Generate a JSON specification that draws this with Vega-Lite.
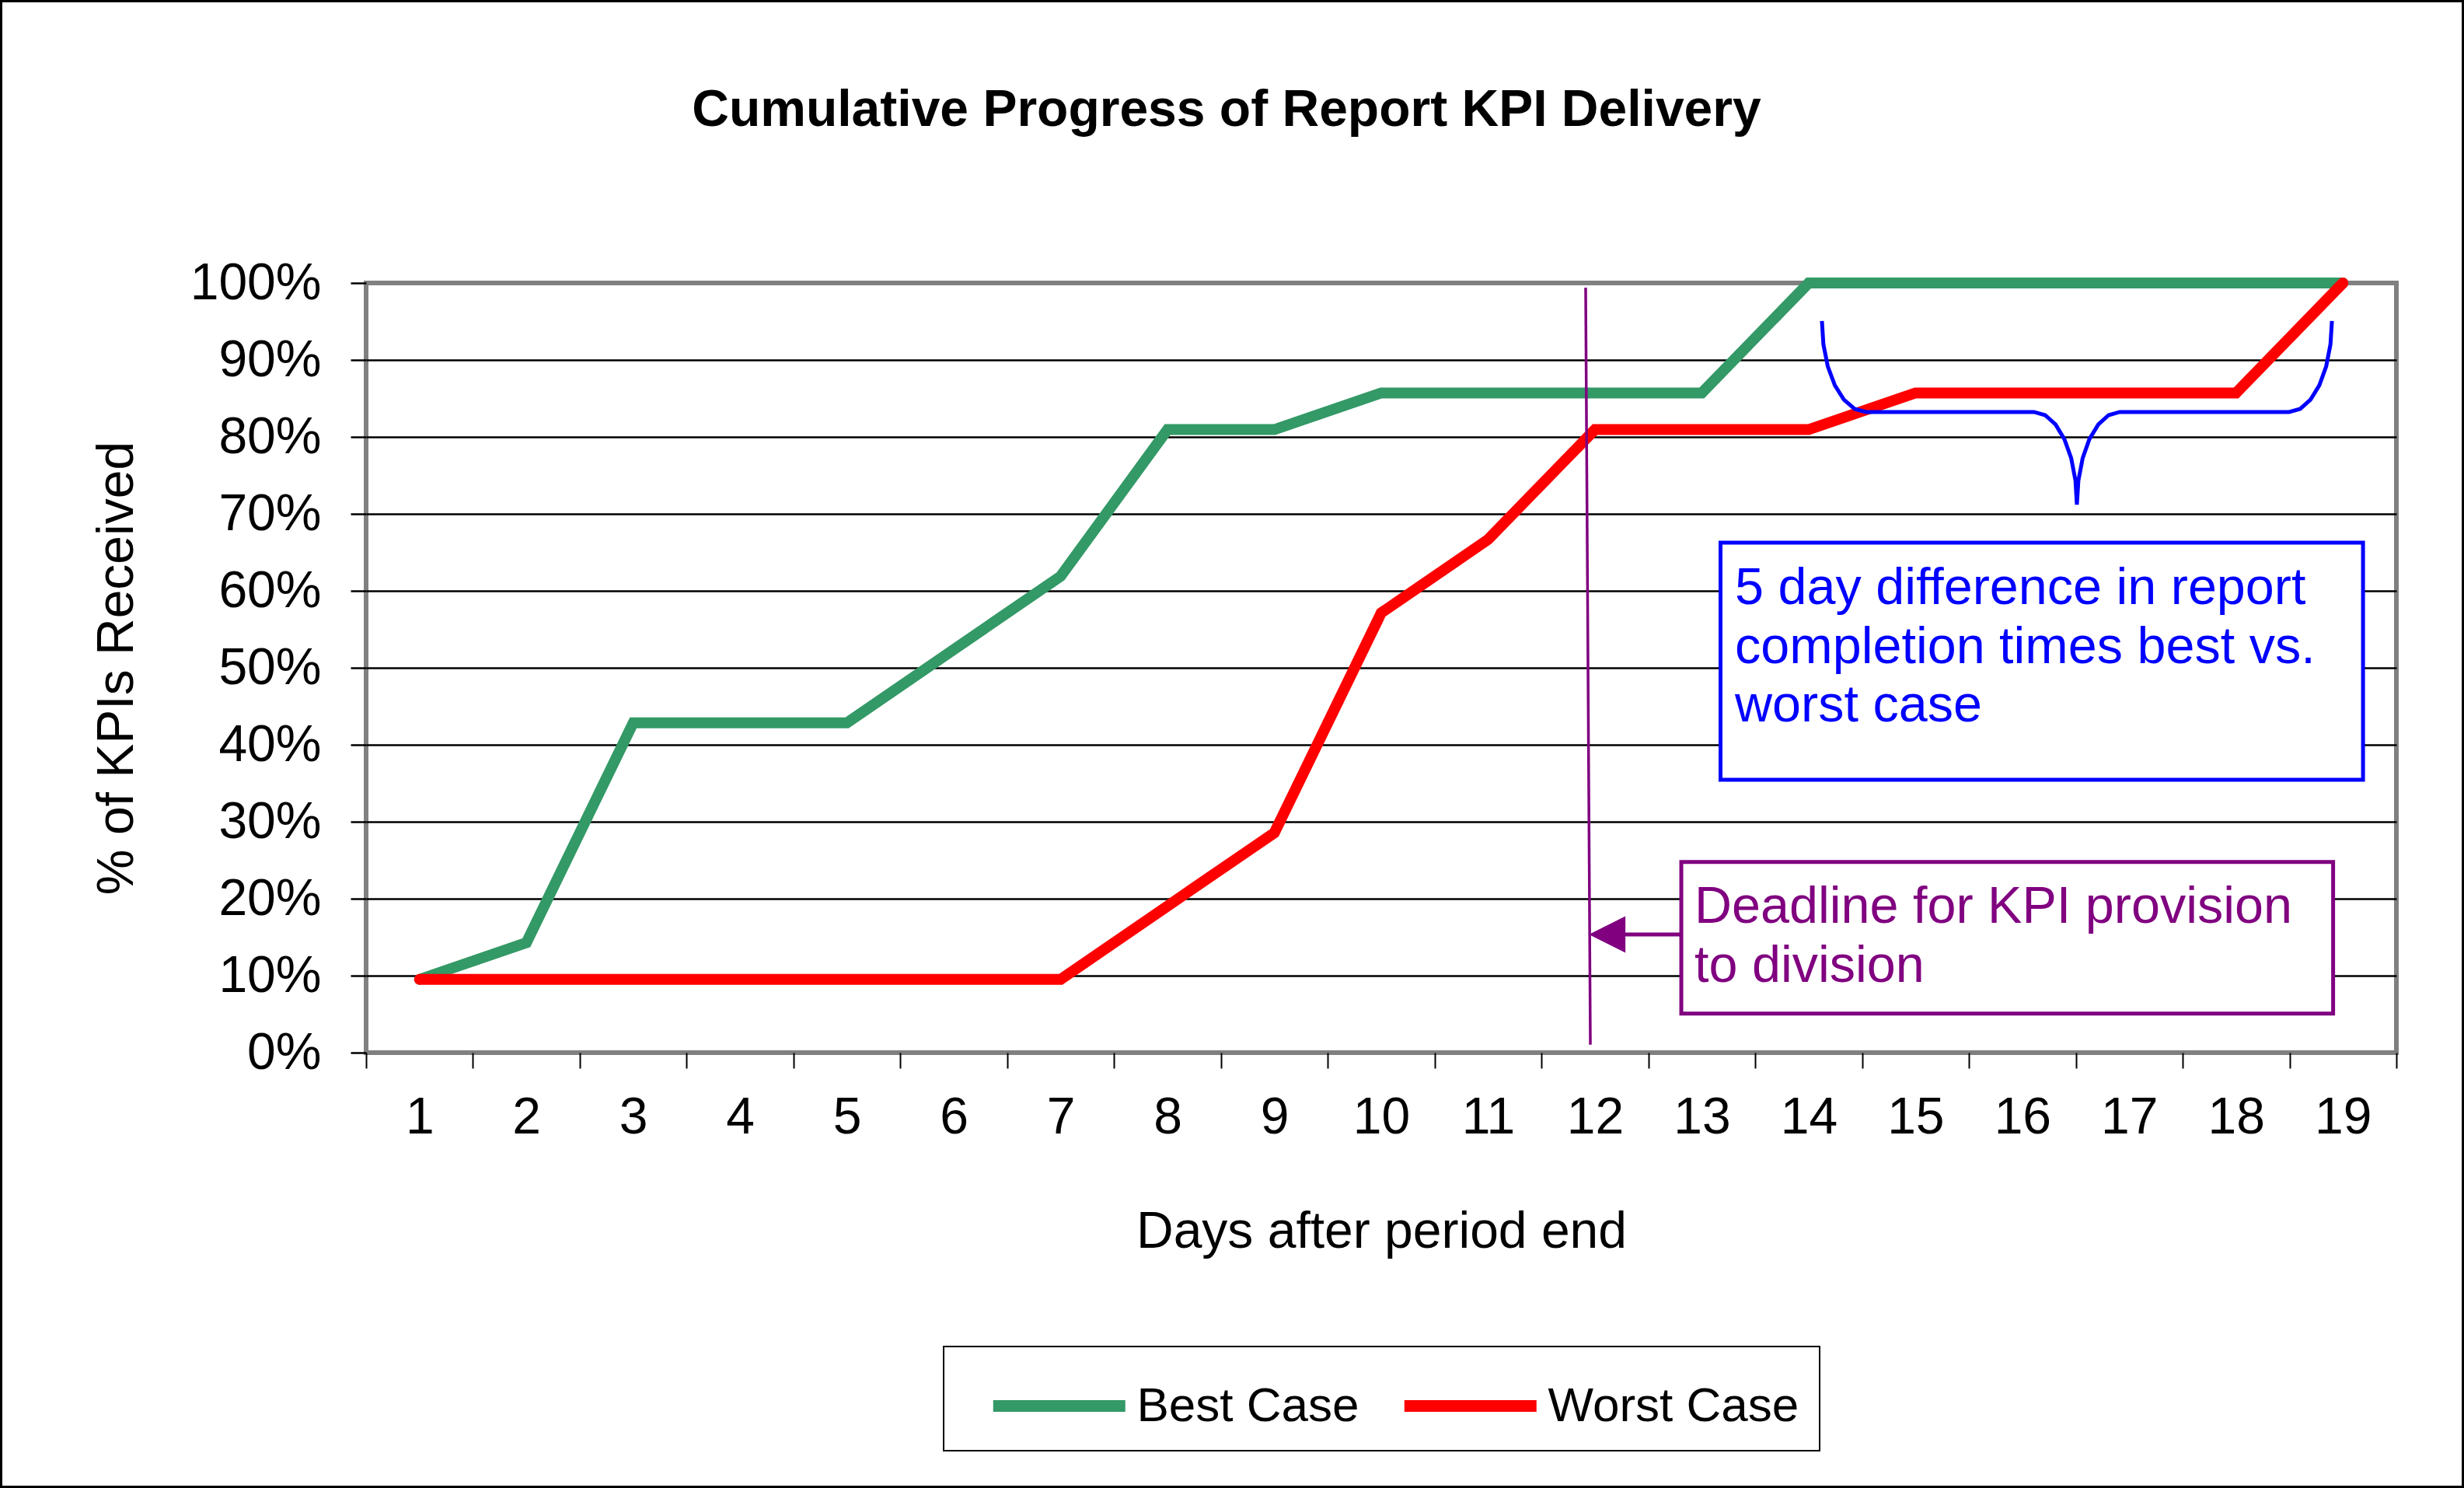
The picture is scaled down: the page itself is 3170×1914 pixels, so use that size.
{
  "$schema": "https://vega.github.io/schema/vega-lite/v6.json",
  "width": 2612,
  "height": 990,
  "autosize": {"type": "none"},
  "padding": {"left": 471, "top": 364, "right": 87, "bottom": 560},
  "background": "white",
  "title": {
    "text": "Cumulative Progress of Report KPI Delivery",
    "fontSize": 66,
    "fontWeight": "bold",
    "color": "black",
    "anchor": "middle",
    "frame": "group",
    "baseline": "alphabetic",
    "dx": -199,
    "offset": -228
  },
  "datasets": {
    "kpi": [
      {"day": 1, "case": "Best Case", "pct": 0.0952},
      {"day": 2, "case": "Best Case", "pct": 0.1429},
      {"day": 3, "case": "Best Case", "pct": 0.4286},
      {"day": 4, "case": "Best Case", "pct": 0.4286},
      {"day": 5, "case": "Best Case", "pct": 0.4286},
      {"day": 6, "case": "Best Case", "pct": 0.5238},
      {"day": 7, "case": "Best Case", "pct": 0.619},
      {"day": 8, "case": "Best Case", "pct": 0.8095},
      {"day": 9, "case": "Best Case", "pct": 0.8095},
      {"day": 10, "case": "Best Case", "pct": 0.8571},
      {"day": 11, "case": "Best Case", "pct": 0.8571},
      {"day": 12, "case": "Best Case", "pct": 0.8571},
      {"day": 13, "case": "Best Case", "pct": 0.8571},
      {"day": 14, "case": "Best Case", "pct": 1},
      {"day": 15, "case": "Best Case", "pct": 1},
      {"day": 16, "case": "Best Case", "pct": 1},
      {"day": 17, "case": "Best Case", "pct": 1},
      {"day": 18, "case": "Best Case", "pct": 1},
      {"day": 19, "case": "Best Case", "pct": 1},
      {"day": 1, "case": "Worst Case", "pct": 0.0952},
      {"day": 2, "case": "Worst Case", "pct": 0.0952},
      {"day": 3, "case": "Worst Case", "pct": 0.0952},
      {"day": 4, "case": "Worst Case", "pct": 0.0952},
      {"day": 5, "case": "Worst Case", "pct": 0.0952},
      {"day": 6, "case": "Worst Case", "pct": 0.0952},
      {"day": 7, "case": "Worst Case", "pct": 0.0952},
      {"day": 8, "case": "Worst Case", "pct": 0.1905},
      {"day": 9, "case": "Worst Case", "pct": 0.2857},
      {"day": 10, "case": "Worst Case", "pct": 0.5714},
      {"day": 11, "case": "Worst Case", "pct": 0.6667},
      {"day": 12, "case": "Worst Case", "pct": 0.8095},
      {"day": 13, "case": "Worst Case", "pct": 0.8095},
      {"day": 14, "case": "Worst Case", "pct": 0.8095},
      {"day": 15, "case": "Worst Case", "pct": 0.8571},
      {"day": 16, "case": "Worst Case", "pct": 0.8571},
      {"day": 17, "case": "Worst Case", "pct": 0.8571},
      {"day": 18, "case": "Worst Case", "pct": 0.8571},
      {"day": 19, "case": "Worst Case", "pct": 1}
    ],
    "frame": [
      {"x1": -2.9153, "x2": 20.1225, "y1": 1.36616, "y2": -0.56414}
    ],
    "deadline": [
      {"x1": 11.913, "y1": 0.9939, "x2": 11.957, "y2": 0.0104}
    ],
    "boxes": [
      {"name": "blue", "x1": 13.175, "x2": 19.188, "y1": 0.6626, "y2": 0.3545},
      {"name": "purple", "x1": 12.808, "x2": 18.908, "y1": 0.2478, "y2": 0.0508}
    ],
    "notes": [
      {"name": "blue", "x": 13.31, "y": 0.5828, "label": "5 day difference in report\ncompletion times best vs.\nworst case"},
      {"name": "purple", "x": 12.932, "y": 0.1684, "label": "Deadline for KPI provision\nto division"}
    ],
    "arrow": [
      {"x1": 12.114, "x2": 12.808, "y": 0.1535}
    ],
    "brace": [
      {"i": 1, "x": 14.124, "y": 0.9507},
      {"i": 2, "x": 14.138, "y": 0.9201},
      {"i": 3, "x": 14.179, "y": 0.8916},
      {"i": 4, "x": 14.245, "y": 0.867},
      {"i": 5, "x": 14.33, "y": 0.8483},
      {"i": 6, "x": 14.43, "y": 0.8364},
      {"i": 7, "x": 14.536, "y": 0.8324},
      {"i": 8, "x": 16.109, "y": 0.8324},
      {"i": 9, "x": 16.213, "y": 0.8283},
      {"i": 10, "x": 16.31, "y": 0.8162},
      {"i": 11, "x": 16.393, "y": 0.7971},
      {"i": 12, "x": 16.457, "y": 0.7722},
      {"i": 13, "x": 16.497, "y": 0.7431},
      {"i": 14, "x": 16.51, "y": 0.7119},
      {"i": 15, "x": 16.524, "y": 0.7431},
      {"i": 16, "x": 16.564, "y": 0.7722},
      {"i": 17, "x": 16.627, "y": 0.7971},
      {"i": 18, "x": 16.711, "y": 0.8162},
      {"i": 19, "x": 16.807, "y": 0.8283},
      {"i": 20, "x": 16.911, "y": 0.8324},
      {"i": 21, "x": 18.496, "y": 0.8324},
      {"i": 22, "x": 18.6, "y": 0.8364},
      {"i": 23, "x": 18.696, "y": 0.8483},
      {"i": 24, "x": 18.779, "y": 0.867},
      {"i": 25, "x": 18.843, "y": 0.8916},
      {"i": 26, "x": 18.883, "y": 0.9201},
      {"i": 27, "x": 18.897, "y": 0.9507}
    ]
  },
  "layer": [
    {
      "data": {"name": "frame"},
      "mark": {"type": "rect", "fill": "transparent", "stroke": "black", "strokeWidth": 3},
      "encoding": {
        "x": {"field": "x1", "type": "quantitative", "scale": {"domain": [0.5, 19.5], "nice": false, "zero": false}},
        "x2": {"field": "x2"},
        "y": {"field": "y1", "type": "quantitative", "scale": {"domain": [0, 1], "nice": false, "zero": false}},
        "y2": {"field": "y2"}
      }
    },
    {
      "data": {"name": "kpi"},
      "mark": {"type": "line", "strokeWidth": 14, "strokeCap": "round", "strokeJoin": "miter"},
      "encoding": {
        "x": {
          "field": "day",
          "type": "quantitative",
          "scale": {"domain": [0.5, 19.5], "nice": false, "zero": false},
          "axis": {
            "title": "Days after period end",
            "values": [0.5, 1.5, 2.5, 3.5, 4.5, 5.5, 6.5, 7.5, 8.5, 9.5, 10.5, 11.5, 12.5, 13.5, 14.5, 15.5, 16.5, 17.5, 18.5, 19.5],
            "labelExpr": "datum.value > 19 ? '' : format(datum.value + 0.5, 'd')",
            "labelOffset": 68.74,
            "labelPadding": 31,
            "labelFlush": false,
            "labelOverlap": false,
            "labelFontSize": 66,
            "grid": false,
            "domain": false,
            "tickSize": 20,
            "tickWidth": 2,
            "titleFontSize": 66,
            "titleFontWeight": "normal",
            "titlePadding": 82
          }
        },
        "y": {
          "field": "pct",
          "type": "quantitative",
          "scale": {"domain": [0, 1], "nice": false, "zero": false},
          "axis": {
            "title": "% of KPIs Received",
            "values": [0, 0.1, 0.2, 0.3, 0.4, 0.5, 0.6, 0.7, 0.8, 0.9, 1],
            "format": ".0%",
            "labelFontSize": 66,
            "labelPadding": 38,
            "grid": true,
            "gridColor": "black",
            "gridWidth": 2.5,
            "gridOpacity": {"condition": {"test": "datum.value < 0.01 || datum.value > 0.99", "value": 0}, "value": 1},
            "domain": false,
            "tickSize": 20,
            "tickWidth": 2.5,
            "titleFontSize": 66,
            "titleFontWeight": "normal",
            "titlePadding": 87
          }
        },
        "color": {
          "field": "case",
          "type": "nominal",
          "scale": {"domain": ["Best Case", "Worst Case"], "range": ["#339966", "#FF0000"]},
          "legend": {
            "title": null,
            "orient": "none",
            "legendX": 743,
            "legendY": 1368,
            "direction": "horizontal",
            "symbolType": "M-0.3,0H3.7",
            "symbolSize": 7225,
            "symbolStrokeWidth": 15,
            "symbolFillColor": "transparent",
            "labelFontSize": 62,
            "labelColor": "black",
            "labelLimit": 600,
            "labelOffset": 122,
            "columnPadding": 20,
            "padding": 26.5,
            "strokeColor": "black"
          }
        }
      }
    },
    {
      "data": {"name": "deadline"},
      "mark": {"type": "rule", "color": "#800080", "strokeWidth": 3.5},
      "encoding": {
        "x": {"field": "x1", "type": "quantitative"},
        "x2": {"field": "x2"},
        "y": {"field": "y1", "type": "quantitative"},
        "y2": {"field": "y2"}
      }
    },
    {
      "data": {"name": "boxes"},
      "mark": {"type": "rect", "fill": "white", "strokeWidth": 5},
      "encoding": {
        "x": {"field": "x1", "type": "quantitative"},
        "x2": {"field": "x2"},
        "y": {"field": "y1", "type": "quantitative"},
        "y2": {"field": "y2"},
        "stroke": {"field": "name", "type": "nominal", "scale": {"domain": ["blue", "purple"], "range": ["#0000FF", "#800080"]}, "legend": null}
      }
    },
    {
      "data": {"name": "notes"},
      "mark": {"type": "text", "align": "left", "baseline": "alphabetic", "fontSize": 66.5, "lineBreak": "\n", "lineHeight": 75.5},
      "encoding": {
        "x": {"field": "x", "type": "quantitative"},
        "y": {"field": "y", "type": "quantitative"},
        "text": {"field": "label"},
        "color": {"field": "name", "type": "nominal", "scale": {"domain": ["blue", "purple"], "range": ["#0000FF", "#800080"]}, "legend": null}
      }
    },
    {
      "data": {"name": "arrow"},
      "mark": {"type": "rule", "color": "#800080", "strokeWidth": 5},
      "encoding": {
        "x": {"field": "x1", "type": "quantitative"},
        "x2": {"field": "x2"},
        "y": {"field": "y", "type": "quantitative"}
      }
    },
    {
      "data": {"name": "arrow"},
      "mark": {"type": "point", "shape": "M-1,0L1,-1L1,1Z", "size": 2209, "filled": true, "opacity": 1, "color": "#800080"},
      "encoding": {
        "x": {"field": "x1", "type": "quantitative"},
        "y": {"field": "y", "type": "quantitative"}
      }
    },
    {
      "data": {"name": "brace"},
      "mark": {"type": "line", "color": "#0000FF", "strokeWidth": 5},
      "encoding": {
        "x": {"field": "x", "type": "quantitative"},
        "y": {"field": "y", "type": "quantitative"},
        "order": {"field": "i", "type": "quantitative"}
      }
    }
  ],
  "resolve": {"scale": {"color": "independent", "stroke": "independent"}},
  "config": {
    "font": "Liberation Sans",
    "view": {"stroke": "#808080", "strokeWidth": 6},
    "axis": {"labelColor": "black", "titleColor": "black", "tickColor": "black"},
    "legend": {"strokeWidth": 2}
  }
}
